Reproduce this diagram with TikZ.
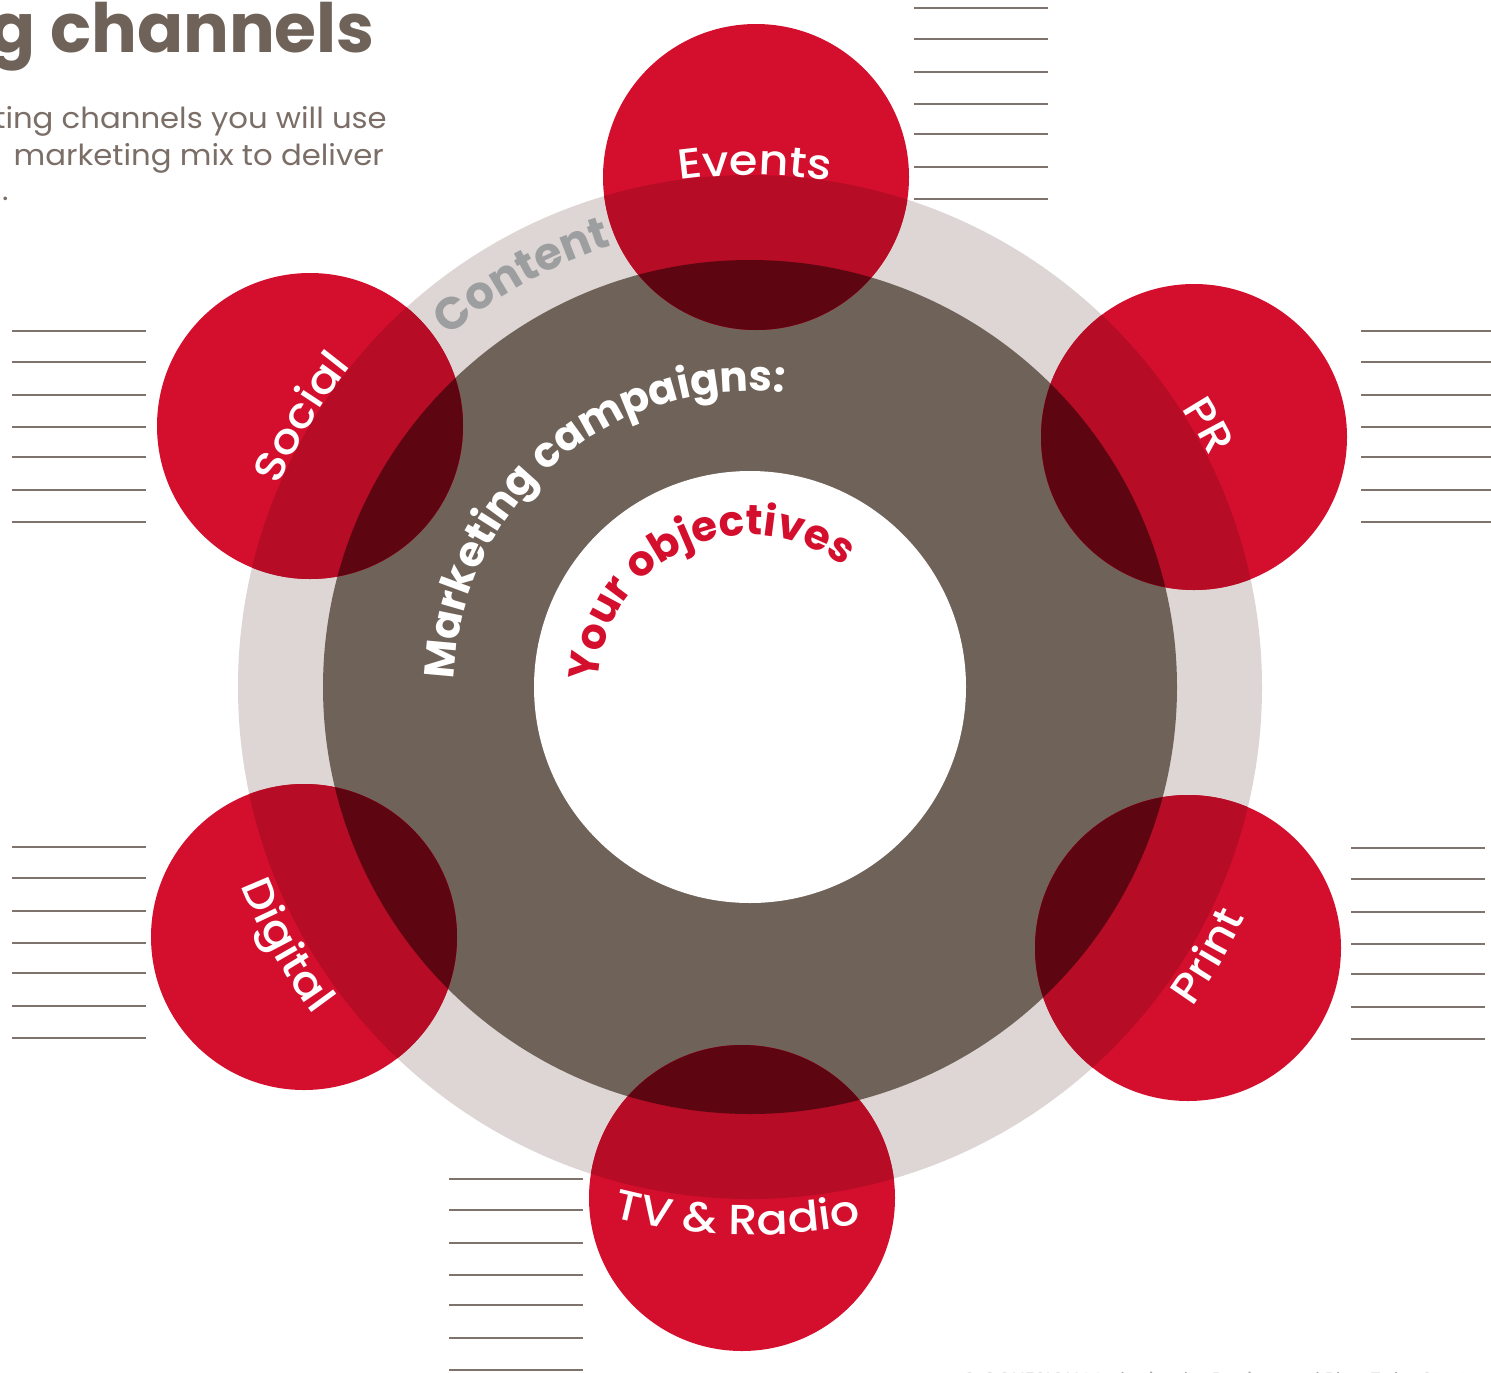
\documentclass[tikz,border=0pt]{standalone}
\usepackage{fontspec}
\setmainfont{Poppins}
\newfontfamily\labelfont{Poppins}[UprightFont=* Medium, FakeStretch=1.1]
\newfontfamily\subfont{Poppins}[FakeStretch=1.06]
\usetikzlibrary{calc,decorations.text}

\definecolor{ringlight}{HTML}{DDD6D4}
\definecolor{ringdark}{HTML}{6F6259}
\definecolor{chred}{HTML}{D40F2E}
\definecolor{chredlight}{HTML}{B60C25}
\definecolor{chreddark}{HTML}{5D0611}
\definecolor{contentgray}{HTML}{9C9E9F}
\definecolor{rulegray}{HTML}{7F746D}
\definecolor{titlebrown}{HTML}{6F6259}
\definecolor{subbrown}{HTML}{7A6E67}

% text set along a circular arc round the centre (c)
% #1 radius, #2 start angle, #3 end angle, #4 format, #5 colour, #6 text
\newcommand\ringtext[6]{%
  \path[decorate, decoration={text along path, text align=center,
      text color=#5, text={|#4|#6}}]
    ($(c)+(#2:#1)$) arc[start angle=#2, end angle=#3, radius=#1];}

\newcommand\labelsize{\labelfont\fontsize{42}{42}\selectfont}

\tikzset{
  ruleline/.style={rulegray, line width=1.7pt},
  titletext/.style={anchor=base east, inner sep=0pt, text=titlebrown,
    font=\bfseries\fontsize{68}{68}\selectfont},
  subtext/.style={anchor=base east, inner sep=0pt, text=subbrown,
    font=\subfont\fontsize{29}{29}\selectfont},
}

\begin{document}
\begin{tikzpicture}[x=1pt,y=1pt]
\useasboundingbox (0,0) rectangle (1491,-1373);
\clip (0,0) rectangle (1491,-1373);

% heading
\node[titletext] (title) at (375,-52) {g channels};
\node[subtext] (sub1) at (387,-128) {ting channels you will use};
\node[subtext] (sub2) at (384,-165) {marketing mix to deliver};
\node[subtext, anchor=base west] (sub3) at (2,-200) {.};

% concentric rings
\coordinate (c) at (750,-687);
\fill[ringlight] (c) circle[radius=512];
\fill[ringdark] (c) circle[radius=427];
\fill[white] (c) circle[radius=216];

% channel discs, darker where they lie over the rings
\foreach \name/\x/\y in {events/756/177, pr/1194/437, print/1188/948,
                         tv/742/1198, digital/304/937, social/310/426}{
  \coordinate (\name) at (\x,-\y);
  \fill[chred] (\name) circle[radius=153];
  \begin{scope}
    \clip (\name) circle[radius=153];
    \fill[chredlight] (c) circle[radius=512];
    \fill[chreddark] (c) circle[radius=427];
  \end{scope}
}

% writing lines beside each channel
\foreach \x/\y in {914/8, 12/331, 1361/331, 12/847, 1351/848, 449/1179}{
  \foreach \d in {0,31,64,96,126,159,191}{
    \draw[ruleline] (\x,-\y-\d) -- ++(134,0);
  }
}

% ring captions
\ringtext{462}{169}{69}{\bfseries\fontsize{45}{45}\selectfont}{contentgray}{Content}
\ringtext{296}{205}{57}{\bfseries\fontsize{42}{42}\selectfont}{white}{Marketing campaigns:}
\ringtext{152}{205}{25}{\bfseries\fontsize{42}{42}\selectfont}{chred}{Your objectives}

% channel labels
\ringtext{512}{129.5}{49.5}{\labelsize}{white}{Events}
\ringtext{514}{69.7}{-10.3}{\labelsize}{white}{PR}
\ringtext{512}{189}{109}{\labelsize}{white}{Social}
\ringtext{546}{-70.4}{9.6}{\labelsize}{white}{Print}
\ringtext{548}{-131.4}{-51.4}{\labelsize}{white}{TV {\&} Radio}
\ringtext{546}{169.1}{249.1}{\labelsize}{white}{Digital}

% footer
\node[anchor=base west, inner sep=0pt, text=gray!70,
      font=\fontsize{19}{19}\selectfont] (foot) at (962,-1386)
  {© COHESION Marketing by Design and Plan Tabs Start};
\end{tikzpicture}
\end{document}
